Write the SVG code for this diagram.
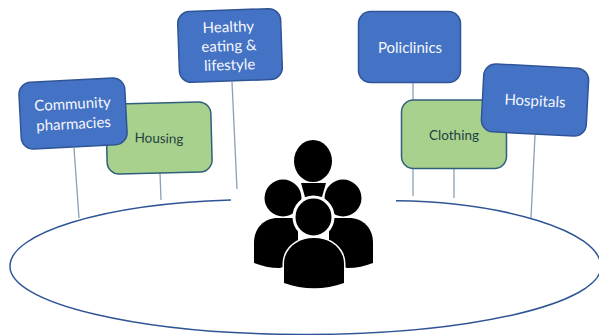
<svg xmlns="http://www.w3.org/2000/svg" width="599" height="335" viewBox="0 0 599 335">
<style>
.blue{fill:#4472c4;stroke:#2f5597;stroke-width:1.5}
.green{fill:#a9d18e;stroke:#2f5f7a;stroke-width:1.5}
.wt{fill:#f4f7fc;font-family:Lato,"Liberation Sans",sans-serif;font-size:15px;text-anchor:middle}
.dt{fill:#243f3f;font-family:Lato,"Liberation Sans",sans-serif;font-size:13.5px;text-anchor:middle}
.ln{fill:none;stroke:#8ba0b4;stroke-width:1.3}
.rim{fill:none;stroke:#2f5597;stroke-width:1.5}
</style>
<rect width="599" height="335" fill="#fff"/>
<g id="connectors">
<path class="ln" d="M74 148L79 218"/>
<path class="ln" d="M160 173L161 200"/>
<path class="ln" d="M232 82L237 189"/>
<path class="ln" d="M413 83V100"/>
<path class="ln" d="M413 169V196"/>
<path class="ln" d="M454 169V198"/>
<path class="ln" d="M535 135L531 218"/>
<path class="rim" d="M231 200C100 204 10 234 10 266A295.500 68 0 0 0 601 267C601 230 500 202 396 200.700"/>
</g>
<g id="housing" transform="rotate(-1.5 159 138)">
<rect class="green" x="106.500" y="103" width="105" height="70" rx="12"/>
<text class="dt" x="159" y="143" transform="rotate(3 159 138)">Housing</text>
</g>
<g id="community" transform="rotate(-3 73 113)">
<rect class="blue" x="20" y="80" width="106" height="67" rx="12"/>
<text class="wt" x="73" y="109">Community</text>
<text class="wt" x="73" y="129">pharmacies</text>
</g>
<g id="healthy" transform="rotate(-2 230 45)">
<rect class="blue" x="178.500" y="10" width="103" height="71" rx="12"/>
<text class="wt" x="229" y="32">Healthy</text>
<text class="wt" x="229" y="51">eating &amp;</text>
<text class="wt" x="229" y="70">lifestyle</text>
</g>
<g id="policlinics">
<rect class="blue" x="358.500" y="11.500" width="102" height="71" rx="12"/>
<text class="wt" x="410" y="53">Policlinics</text>
</g>
<g id="clothing">
<rect class="green" x="401.500" y="100" width="105" height="68.500" rx="12"/>
<text class="dt" x="454" y="140">Clothing</text>
</g>
<g id="hospitals" transform="rotate(3 535 100)">
<rect class="blue" x="482.500" y="66" width="105" height="68" rx="12"/>
<text class="wt" x="535" y="106">Hospitals</text>
</g>
<g id="people">
<ellipse cx="313" cy="161" rx="19" ry="21"/>
<path d="M301 183H326L322 197H305Z"/>
<circle cx="283" cy="198" r="18.500"/>
<circle cx="343" cy="198" r="18.500"/>
<path d="M254 263V243C254 228 264 218 278 218H298V262L280 268C270 268 262 266 254 263Z"/>
<path d="M373 263V243C373 228 363 218 349 218H329V262L347 268C357 268 365 266 373 263Z"/>
<ellipse cx="313.500" cy="217" rx="19.500" ry="20" fill="#000" stroke="#fff" stroke-width="3"/>
<path d="M284 283V264C284 249 297 238 314 238S344 249 344 264V283C325 290 303 290 284 283Z" stroke="#fff" stroke-width="3" paint-order="stroke"/>
</g>
</svg>
